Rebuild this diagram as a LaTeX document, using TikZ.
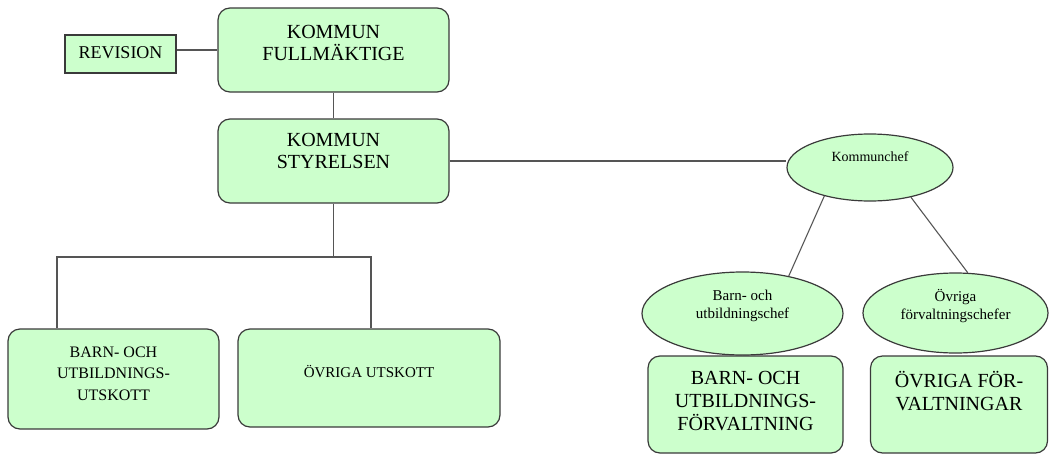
\documentclass[tikz,border=0pt]{standalone}
\usepackage{fontspec}
\IfFontExistsTF{LiberationSerif-Regular.ttf}
  {\setmainfont{LiberationSerif-Regular.ttf}[BoldFont=LiberationSerif-Bold.ttf,ItalicFont=LiberationSerif-Italic.ttf]}
  {\setmainfont{Liberation Serif}}
\usetikzlibrary{shapes.geometric}
\definecolor{boxfill}{HTML}{CCFFCC}
\definecolor{boxline}{HTML}{3A3A3A}
\definecolor{connline}{HTML}{555555}
\begin{document}
\begin{tikzpicture}[x=1pt,y=-1pt,
  rbox/.style={draw=boxline,fill=boxfill,rounded corners=12pt,line width=1.2pt,inner sep=0pt},
  sbox/.style={draw=boxline,fill=boxfill,line width=1.2pt,inner sep=0pt},
  ebox/.style={ellipse,draw=boxline,fill=boxfill,line width=1.2pt,inner sep=0pt},
  conn/.style={draw=connline,line width=1.1pt},
  txt/.style={inner sep=0pt,align=center,text=black}
]
\useasboundingbox (0,0) rectangle (1049,455);

% boxes
\node[sbox,minimum width=111pt,minimum height=38pt] (rev) at (120.5,54) {};
\node[rbox,minimum width=231pt,minimum height=84pt] (kf) at (333.5,50) {};
\node[rbox,minimum width=231pt,minimum height=84pt] (ks) at (333.5,161) {};
\node[rbox,minimum width=211pt,minimum height=100pt] (bu) at (113.5,379) {};
\node[rbox,minimum width=262pt,minimum height=98pt] (ou) at (369,378) {};
\node[rbox,minimum width=195pt,minimum height=97pt] (bf) at (745.5,404.5) {};
\node[rbox,minimum width=177pt,minimum height=97pt] (of) at (959,404.5) {};
\node[ebox,minimum width=166pt,minimum height=67pt] (kc) at (870,167.5) {};
\node[ebox,minimum width=201pt,minimum height=83pt] (bc) at (742.5,313.5) {};
\node[ebox,minimum width=185pt,minimum height=80pt] (oc) at (955.5,313) {};

% texts
\node[txt,font=\fontsize{18}{21}\selectfont] (revt) at (120.5,53) {REVISION};
\node[txt,anchor=north,font=\fontsize{20}{22}\selectfont] (kft) at (333.5,25) {KOMMUN\\FULLMÄKTIGE};
\node[txt,anchor=north,font=\fontsize{20}{22}\selectfont] (kst) at (333.5,133.5) {KOMMUN\\STYRELSEN};
\node[txt,anchor=north,font=\fontsize{16}{21.5}\selectfont] (but) at (113.5,346.5) {BARN- OCH\\UTBILDNINGS-\\UTSKOTT};
\node[txt,anchor=base,font=\fontsize{15}{18}\selectfont] (out) at (369,377) {ÖVRIGA UTSKOTT};
\node[txt,anchor=north,font=\fontsize{20}{23}\selectfont] (bft) at (745.5,371.5) {BARN- OCH\\UTBILDNINGS-\\FÖRVALTNING};
\node[txt,anchor=north,font=\fontsize{20}{23}\selectfont] (oft) at (959,371) {ÖVRIGA FÖR-\\VALTNINGAR};
\node[txt,anchor=base,font=\fontsize{14}{17}\selectfont] (kct) at (870,161) {Kommunchef};
\node[txt,anchor=north,font=\fontsize{15}{18}\selectfont] (bct) at (742.5,290) {Barn- och\\utbildningschef};
\node[txt,anchor=north,font=\fontsize{15}{18}\selectfont] (oct) at (955.5,289) {Övriga\\förvaltningschefer};

% connectors
\coordinate (ry) at (0,50);
\coordinate (xl) at (57,0);
\coordinate (xr) at (371,0);
\coordinate (j) at (333.5,257);
\draw[conn] (rev.east |- ry) -- (kf.west |- ry);
\draw[conn] (kf.south) -- (ks.north);
\draw[conn] (ks.south) -- (j);
\draw[conn] (bu.north -| xl) |- (j) -| (ou.north -| xr);
\draw[conn] (ks.east) -- (ks.east -| kc.west);
\draw[conn] (kc.212) -- (bc.39);
\draw[conn] (kc.324) -- (oc.73);
\end{tikzpicture}
\end{document}
